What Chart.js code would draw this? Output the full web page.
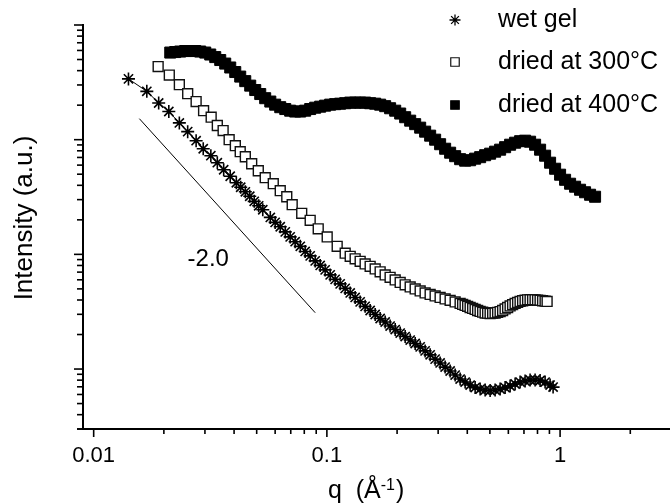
<!DOCTYPE html>
<html>
<head>
<meta charset="utf-8">
<script src="https://cdn.jsdelivr.net/npm/chart.js@4.4.0/dist/chart.umd.min.js"></script>
<style>
  html, body { margin: 0; padding: 0; background: #fff; }
  #wrap { width: 670px; height: 503px; position: relative; }
</style>
</head>
<body>
<div id="wrap"><canvas id="saxsChart"></canvas></div>
<script>
// Series names (legend order)
const seriesNames = ['wet gel', 'dried at 300°C', 'dried at 400°C'];

// wet gel: q (1/A) and intensity (a.u.)
const wetGelQ = [0.0141, 0.0169, 0.0190, 0.0210, 0.0233, 0.0253, 0.0275, 0.0295, 0.0318, 0.0339,
    0.0361, 0.0385, 0.0409, 0.0427, 0.0447, 0.0467, 0.0488, 0.0510, 0.0531,
    0.0572, 0.0600, 0.0631, 0.0663, 0.0696, 0.0731, 0.0769, 0.0807, 0.0848, 0.0891,
    0.0936, 0.0983, 0.1033, 0.1085, 0.1140, 0.1198, 0.1259, 0.1322, 0.1389, 0.1459,
    0.1533, 0.1611, 0.1692, 0.1778, 0.1867, 0.1963, 0.2062, 0.2166, 0.2276, 0.2391,
    0.2512, 0.2638, 0.2772, 0.2912, 0.3059, 0.3214, 0.3377, 0.3548, 0.3727, 0.3916,
    0.4114, 0.4322, 0.4541, 0.4771, 0.5012, 0.5265, 0.5532, 0.5811, 0.6105, 0.6414,
    0.6738, 0.7079, 0.7437, 0.7813, 0.8209, 0.8624, 0.9060, 0.9333];
const wetGelI = [339, 264, 209, 176, 140, 117.5, 98, 83.4, 72.5, 63,
    54.7, 48, 42.1, 38.5, 35.1, 32.1, 29.0, 26.5, 24.5,
    21.0, 19.0, 17.4, 15.7, 14.2, 12.9, 11.75, 10.6, 9.70, 8.77,
    8.01, 7.32, 6.62, 6.05, 5.53, 5.05, 4.61, 4.21, 3.85, 3.52,
    3.24, 2.99, 2.76, 2.57, 2.37, 2.21, 2.06, 1.92, 1.79, 1.67,
    1.56, 1.44, 1.33, 1.22, 1.13, 1.04, 0.961, 0.886, 0.818, 0.770,
    0.725, 0.689, 0.669, 0.656, 0.649, 0.656, 0.669, 0.689, 0.711, 0.740,
    0.770, 0.786, 0.802, 0.802, 0.794, 0.770, 0.725, 0.696];

// dried at 300 C
const dried300Q = [0.0189, 0.0211, 0.0233, 0.0253, 0.0275, 0.0296, 0.0319, 0.0339, 0.0359, 0.0381,
    0.0405, 0.0425, 0.0447, 0.0476, 0.0508, 0.0544, 0.0589, 0.0631, 0.0673, 0.0710,
    0.0780, 0.0848, 0.0918, 0.1003, 0.1107,
    0.1198, 0.1259, 0.1322, 0.1389, 0.1459, 0.1533, 0.1611, 0.1692, 0.1778, 0.1867,
    0.1963, 0.2062, 0.2166, 0.2276, 0.2391, 0.2512, 0.2638, 0.2772, 0.2912, 0.3059,
    0.3214, 0.3377, 0.3548, 0.3727,
    0.3820, 0.3916, 0.4014, 0.4114, 0.4217, 0.4322, 0.4430, 0.4541, 0.4655, 0.4771,
    0.4890, 0.5012, 0.5138, 0.5265, 0.5397, 0.5532, 0.5670, 0.5811, 0.5957, 0.6105,
    0.6258, 0.6414, 0.6575, 0.6738, 0.6907, 0.7079, 0.7256, 0.7437, 0.7623, 0.7813,
    0.8008, 0.8209, 0.8414, 0.8624, 0.8797];
const dried300I = [434, 366, 302, 252, 215, 179, 157, 133, 120, 100,
    88.6, 78.6, 71.0, 61.7, 53.6, 46.6, 41.3, 35.9, 31.8, 27.1,
    22.8, 19.8, 16.7, 14.2, 11.75,
    10.24, 9.61, 9.14, 8.69, 8.26, 7.86, 7.47, 7.04, 6.62, 6.30,
    5.99, 5.69, 5.42, 5.20, 5.00, 4.80, 4.61, 4.47, 4.34, 4.21,
    4.09, 3.97, 3.85, 3.73,
    3.66, 3.59, 3.52, 3.44, 3.38, 3.31, 3.24, 3.18, 3.13, 3.08,
    3.07, 3.05, 3.07, 3.08, 3.12, 3.17, 3.24, 3.34, 3.44, 3.55,
    3.64, 3.73, 3.81, 3.89, 3.94, 3.98, 4.01, 4.02, 4.02, 4.01,
    3.99, 3.97, 3.94, 3.91, 3.89];

// dried at 400 C
const dried400Q = [0.02130, 0.02237, 0.02350, 0.02469, 0.02595, 0.02726, 0.02863, 0.03009, 0.03161,
    0.03321, 0.03489, 0.03665, 0.03851, 0.04046, 0.04250, 0.04466, 0.04691, 0.04929, 0.05178,
    0.05438, 0.0572, 0.0600, 0.0631, 0.0663, 0.0696, 0.0731, 0.0769, 0.0807, 0.0848,
    0.0891, 0.0936, 0.0983, 0.1033, 0.1085, 0.1140, 0.1198, 0.1259, 0.1322, 0.1389,
    0.1459, 0.1533, 0.1611, 0.1692, 0.1778, 0.1867, 0.1963, 0.2062, 0.2166, 0.2276,
    0.2391, 0.2512, 0.2638, 0.2772, 0.2912, 0.3059, 0.3214, 0.3377, 0.3548, 0.3727,
    0.3916, 0.4114, 0.4322, 0.4541, 0.4771, 0.5012, 0.5265, 0.5532, 0.5811, 0.6105,
    0.6414, 0.6738, 0.7079, 0.7437, 0.7813, 0.8209, 0.8624, 0.9060, 0.9519, 1.000,
    1.0505, 1.1037, 1.1595, 1.2181, 1.2797, 1.3445, 1.4125];
const dried400I = [575, 581, 587, 593, 593, 593, 587, 575, 553,
    525, 495, 461, 426, 389, 355, 324, 296, 271, 250,
    230, 215, 202, 192, 185, 179, 176, 176, 179, 185,
    190, 194, 198, 202, 204, 206, 208, 210.5, 210.5, 210.5,
    210.5, 208, 206, 202, 196, 188, 179, 169, 157, 146.5,
    136.6, 127.3, 117.5, 108.4, 100, 91.3, 83.4, 77.0, 71.8, 67.6,
    65.6, 66.2, 68.3, 70.4, 73.2, 75.5, 78.6, 81.8, 86.0, 90.4,
    94.1, 97.0, 98.0, 96.0, 90.4, 81.8, 72.5, 63.0, 55.8, 49.5,
    44.7, 41.3, 38.9, 36.6, 34.8, 33.1, 31.8];

// guide line for the -2.0 slope (end points) and its label position
const slopeLineQ = [0.0157, 0.0891];
const slopeLineI = [152.5, 3.10];
const slopeLabel = '-2.0';
const slopeLabelQ = 0.031;
const slopeLabelI = 9.0;

// axis ranges and labels
const xRange = [0.009, 2.96];
const yRange = [0.3, 1000];
const xLabelValues = [0.01, 0.1, 1];
const xLabelTexts = ['0.01', '0.1', '1'];
const xTitleParts = ['q  (Å', '-1', ')'];
const yTitle = 'Intensity (a.u.)';

function toPoints(qs, is) {
    return qs.map(function (q, i) { return { x: q, y: is[i] }; });
}

const FONT = '"Liberation Sans", Arial, Helvetica, sans-serif';

const seriesStyles = [
    { pointStyle: 'star', radius: 6.5, borderWidth: 1.6, fill: '#000', stroke: '#000' },
    { pointStyle: 'rect', radius: 7, borderWidth: 1.4, fill: '#fff', stroke: '#111' },
    { pointStyle: 'rect', radius: 7.8, borderWidth: 1, fill: '#000', stroke: '#000' }
];

// tick marks drawn outside the axes, long at decades, short in between
const axisMarks = {
    id: 'axisMarks',
    afterDraw(chart) {
        const ctx = chart.ctx;
        const area = chart.chartArea;
        ctx.save();
        ctx.strokeStyle = '#000';
        ctx.lineWidth = 1.6;
        ['x', 'y'].forEach(function (id) {
            const scale = chart.scales[id];
            scale.ticks.forEach(function (t) {
                const v = t.value;
                const exp = Math.floor(Math.log10(v) + 1e-9);
                const m = v / Math.pow(10, exp);
                const mr = Math.round(m);
                if (Math.abs(m - mr) > 1e-4) return;
                if (id === 'x' && v <= scale.min * 1.001) return;
                const major = mr === 1 || mr === 10;
                const p = scale.getPixelForValue(v);
                ctx.beginPath();
                if (id === 'x') {
                    const len = major ? 8 : 5;
                    ctx.moveTo(p, area.bottom);
                    ctx.lineTo(p, area.bottom + len);
                } else {
                    const len = major ? 9 : 6;
                    ctx.moveTo(area.left - len, p);
                    ctx.lineTo(area.left, p);
                }
                ctx.stroke();
            });
        });
        ctx.restore();
    }
};

// axis titles, slope label and legend
const chartText = {
    id: 'chartText',
    afterDraw(chart) {
        const ctx = chart.ctx;
        const xs = chart.scales.x;
        const ys = chart.scales.y;
        ctx.save();
        ctx.fillStyle = '#000';
        ctx.textBaseline = 'alphabetic';

        // y title
        ctx.save();
        ctx.translate(32, 218);
        ctx.rotate(-Math.PI / 2);
        ctx.font = '26px ' + FONT;
        ctx.textAlign = 'center';
        ctx.fillText(yTitle, 0, 0);
        ctx.restore();

        // x title with superscript
        ctx.textAlign = 'left';
        let x = 328;
        const base = 498;
        ctx.font = '25px ' + FONT;
        ctx.fillText(xTitleParts[0], x, base);
        x += ctx.measureText(xTitleParts[0]).width;
        ctx.font = '16px ' + FONT;
        ctx.fillText(xTitleParts[1], x, base - 8);
        x += ctx.measureText(xTitleParts[1]).width + 1;
        ctx.font = '25px ' + FONT;
        ctx.fillText(xTitleParts[2], x, base);

        // slope label
        ctx.font = '24px ' + FONT;
        ctx.textAlign = 'center';
        ctx.textBaseline = 'middle';
        ctx.fillText(slopeLabel, xs.getPixelForValue(slopeLabelQ), ys.getPixelForValue(slopeLabelI));

        // legend
        const rowsY = [20, 62, 105];
        ctx.textAlign = 'left';
        ctx.font = '25px ' + FONT;
        seriesNames.forEach(function (name, i) {
            const st = seriesStyles[i];
            ctx.fillStyle = st.fill;
            ctx.strokeStyle = st.stroke;
            ctx.lineWidth = i === 0 ? 1.3 : 1.2;
            Chart.helpers.drawPoint(ctx, {
                pointStyle: st.pointStyle, radius: i === 0 ? 5.5 : 6, borderWidth: 1.2, rotation: 0
            }, 455, rowsY[i]);
            ctx.fillStyle = '#000';
            ctx.fillText(name, 498, rowsY[i]);
        });
        ctx.restore();
    }
};

document.addEventListener('DOMContentLoaded', function () {
    const canvas = document.getElementById('saxsChart');

    const datasets = [wetGelQ, dried300Q, dried400Q].map(function (qs, i) {
        const is = [wetGelI, dried300I, dried400I][i];
        const st = seriesStyles[i];
        return {
            label: seriesNames[i],
            data: toPoints(qs, is),
            showLine: i === 0,
            borderColor: '#000',
            borderWidth: 1,
            pointStyle: st.pointStyle,
            pointRadius: st.radius,
            pointBorderWidth: st.borderWidth,
            pointBackgroundColor: st.fill,
            pointBorderColor: st.stroke,
            order: 3 - i
        };
    });

    datasets.push({
        label: 'slope',
        data: toPoints(slopeLineQ, slopeLineI),
        showLine: true,
        borderColor: '#000',
        borderWidth: 1,
        pointRadius: 0,
        order: 0
    });

    new Chart(canvas, {
        type: 'scatter',
        data: { datasets: datasets },
        options: {
            responsive: true,
            maintainAspectRatio: false,
            animation: false,
            events: [],
            layout: { autoPadding: false, padding: { top: 25, right: 0, left: 0, bottom: 0 } },
            plugins: {
                legend: { display: false },
                tooltip: { enabled: false }
            },
            scales: {
                x: {
                    type: 'logarithmic',
                    min: xRange[0],
                    max: xRange[1],
                    afterFit: function (s) { s.height = 74; s.paddingRight = 0; },
                    border: { display: true, color: '#000', width: 2 },
                    grid: { display: true, drawOnChartArea: false, drawTicks: true, tickLength: 14, color: 'rgba(0,0,0,0)' },
                    ticks: {
                        autoSkip: false,
                        maxRotation: 0,
                        padding: 0,
                        color: '#000',
                        font: { family: FONT, size: 22 },
                        callback: function (v) {
                            const k = xLabelValues.findIndex(function (lv) { return Math.abs(lv - v) < lv * 1e-6; });
                            return k >= 0 ? xLabelTexts[k] : '';
                        }
                    }
                },
                y: {
                    type: 'logarithmic',
                    min: yRange[0],
                    max: yRange[1],
                    afterFit: function (s) { s.width = 83; },
                    border: { display: true, color: '#000', width: 2 },
                    grid: { display: true, drawOnChartArea: false, drawTicks: true, tickLength: 9, color: 'rgba(0,0,0,0)' },
                    ticks: {
                        autoSkip: false,
                        padding: 0,
                        callback: function () { return ''; }
                    }
                }
            }
        },
        plugins: [axisMarks, chartText]
    });
});
</script>
</body>
</html>
